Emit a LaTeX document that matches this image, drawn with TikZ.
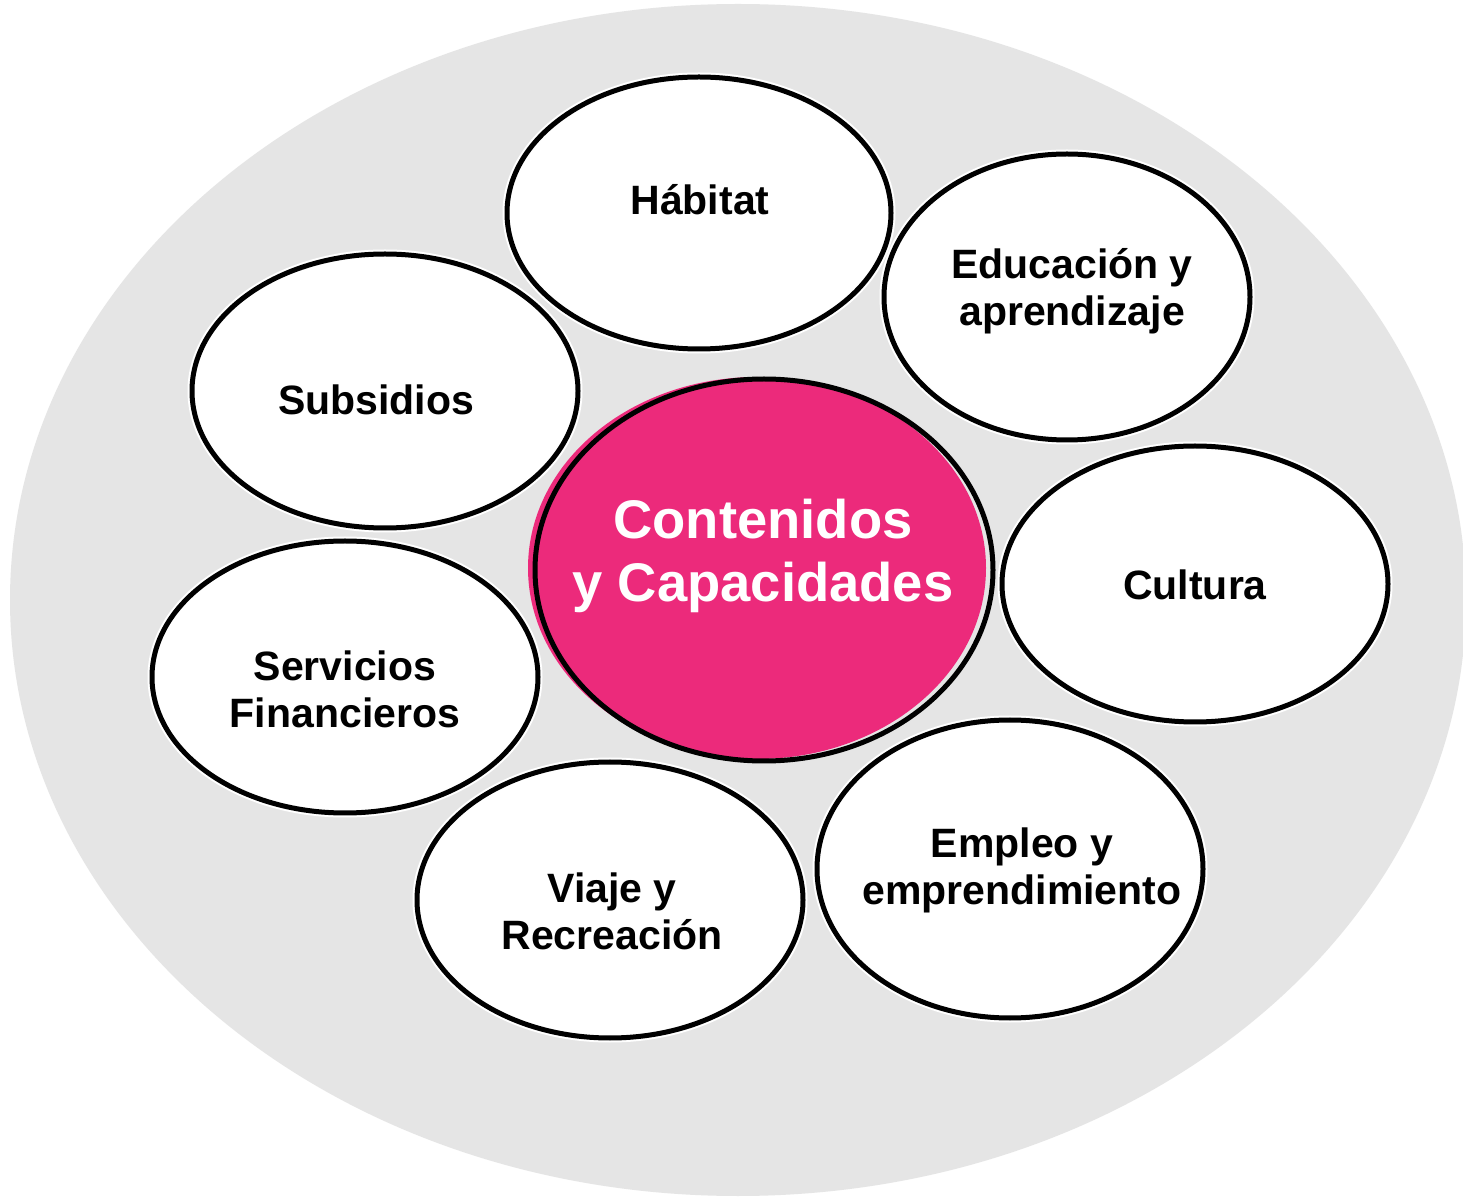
\documentclass[tikz,border=0pt]{standalone}
\usepackage{fontspec}
\setmainfont{Liberation Sans}
\usetikzlibrary{shapes.geometric}
\definecolor{bggray}{RGB}{229,229,229}
\definecolor{pinkc}{RGB}{236,42,123}
\begin{document}
\begin{tikzpicture}[x=0.5pt,y=-0.5pt,
  bubble/.style={ellipse, draw=black, line width=2.5pt, fill=white, inner sep=0pt,
    preaction={draw=white, line width=4.5pt}},
  lbl/.style={font=\fontsize{20.5}{23.5}\selectfont\bfseries, align=center, text=black, inner sep=0pt},
  biglbl/.style={font=\fontsize{27.2}{31.5}\selectfont\bfseries, align=center, text=white, inner sep=0pt}]
\path[use as bounding box, clip] (0,0) rectangle (1463,1197);
\fill[white] (0,0) rectangle (1463,1197);
% background
\node[ellipse, fill=bggray, minimum width=728pt, minimum height=596pt, inner sep=0pt] (bg) at (738,600) {};
% centre
\node[ellipse, fill=pinkc, minimum width=229pt, minimum height=191pt, inner sep=0pt] (cenfill) at (757,568) {};
\node[ellipse, draw=black, line width=2.5pt, minimum width=229pt, minimum height=191pt, inner sep=0pt] (cen) at (764,570) {};
% bubbles
\node[bubble, minimum width=192pt, minimum height=136pt] (hab) at (699,213) {};
\node[bubble, minimum width=183pt, minimum height=143pt] (edu) at (1067,297) {};
\node[bubble, minimum width=193pt, minimum height=137pt] (sub) at (385,391) {};
\node[bubble, minimum width=193pt, minimum height=138pt] (cul) at (1195,584) {};
\node[bubble, minimum width=193pt, minimum height=136pt] (ser) at (345,677) {};
\node[bubble, minimum width=193pt, minimum height=138pt] (via) at (610,900) {};
\node[bubble, minimum width=193pt, minimum height=149pt] (emp) at (1010,869) {};
% labels
\node[lbl] (habt) at (700,200) {Hábitat};
\node[lbl] (edut) at (1072,291) {Educación y\\aprendizaje};
\node[lbl] (subt) at (376,400) {Subsidios};
\node[lbl] (cult) at (1195,585) {Cultura};
\node[lbl] (sert) at (345,689) {Servicios\\Financieros};
\node[lbl] (viat) at (612,911) {Viaje y\\Recreación};
\node[lbl] (empt) at (1022,870) {Empleo y\\emprendimiento};
\node[biglbl] (cent) at (763,556) {Contenidos\\y Capacidades};
\end{tikzpicture}
\end{document}
